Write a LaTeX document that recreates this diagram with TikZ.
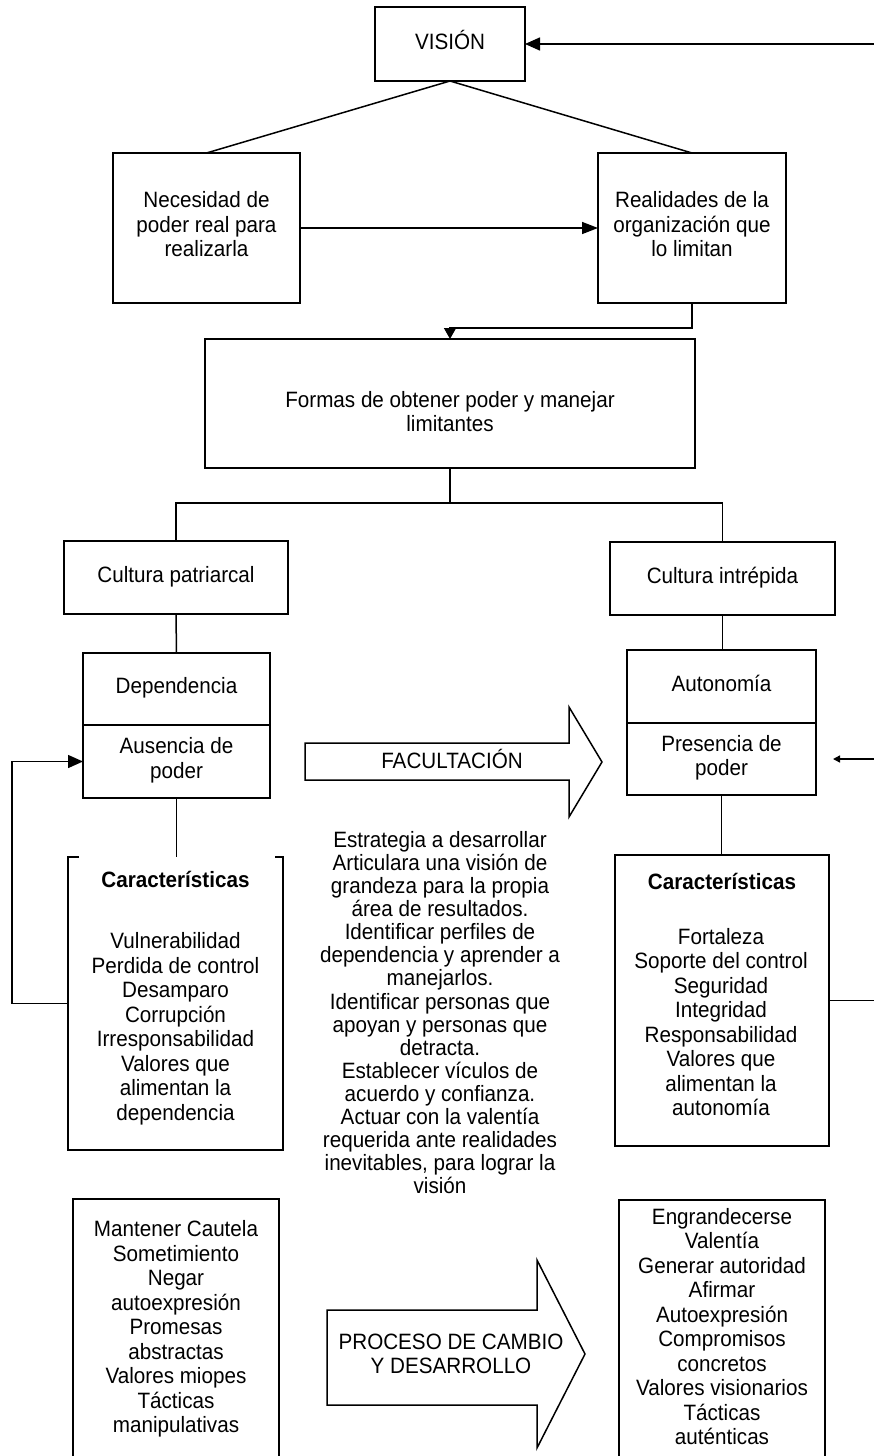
\documentclass[tikz,border=0pt]{standalone}
\usepackage{fontspec}
\setmainfont{Liberation Sans}[FakeStretch=0.93]
\usetikzlibrary{arrows.meta}
\begin{document}
\begin{tikzpicture}[x=1pt,y=-1pt,
  every node/.style={inner sep=0pt, outer sep=0pt, align=center,
    font=\fontsize{22.2}{24.5}\selectfont,
    execute at begin node=\strut, execute at end node=\strut},
  ln/.style={line width=1.5pt},
  box/.style={draw, line width=1.5pt, rectangle},
  blockarrow/.style={draw, line width=1.5pt, line join=miter},
  bigtip/.style={-{Triangle[length=15pt,width=13pt]}},
  smalltip/.style={-{Triangle[length=7pt,width=7pt]}},
  midtext/.style={font=\fontsize{22.2}{23.1}\selectfont}
]
\useasboundingbox (0,0) rectangle (873,1456);

% top level
\node[box, minimum width=150pt, minimum height=74pt] (vision) at (450,44) {VISIÓN};
\node[box, minimum width=187pt, minimum height=150pt] (nec) at (206.5,228)
  {Necesidad de\\poder real para\\realizarla};
\node[box, minimum width=188pt, minimum height=150pt] (real) at (692,228)
  {Realidades de la\\organización que\\lo limitan};
\node[box, minimum width=490pt, minimum height=129pt] (formas) at (450,403.5) {};
\node (formastxt) at (450,415) {Formas de obtener poder y manejar\\limitantes};

% the two cultures
\node[box, minimum width=224pt, minimum height=73pt] (pat) at (176,577.5) {Cultura patriarcal};
\node[box, minimum width=225pt, minimum height=73pt] (intr) at (722.5,578.5) {Cultura intrépida};

\node[box, minimum width=187pt, minimum height=72pt] (dep) at (176.5,689) {Dependencia};
\node[box, minimum width=187pt, minimum height=73pt] (aus) at (176.5,761.5) {Ausencia de\\poder};
\node[box, minimum width=189pt, minimum height=73pt] (aut) at (721.5,686.5) {Autonomía};
\node[box, minimum width=189pt, minimum height=72pt] (pres) at (721.5,759) {Presencia de\\poder};

% characteristics
\node[minimum width=215pt, minimum height=293pt] (lcar) at (175.5,1003.5) {};
\draw[ln] ([xshift=11pt]lcar.north west) -- (lcar.north west) -- (lcar.south west)
  -- (lcar.south east) -- (lcar.north east) -- ([xshift=-8pt]lcar.north east);
\node[font=\fontsize{22.2}{24.5}\selectfont\bfseries] (lcartitle) at (175.5,882.4) {Características};
\node (lcarlist) at (175.5,1030)
  {Vulnerabilidad\\Perdida de control\\Desamparo\\Corrupción\\Irresponsabilidad\\Valores que\\alimentan la\\dependencia};

\node[box, minimum width=214pt, minimum height=291pt] (rcar) at (722,1000.5) {};
\node[font=\fontsize{22.2}{24.5}\selectfont\bfseries] (rcartitle) at (722,884.4) {Características};
\node (rcarlist) at (721,1025.5)
  {Fortaleza\\Soporte del control\\Seguridad\\Integridad\\Responsabilidad\\Valores que\\alimentan la\\autonomía};

% strategy text
\node[midtext] (estr) at (440,1016)
  {Estrategia a desarrollar\\Articulara una visión de\\grandeza para la propia\\área de resultados.\\Identificar perfiles de\\dependencia y aprender a\\manejarlos.\\Identificar personas que\\apoyan y personas que\\detracta.\\Establecer vículos de\\acuerdo y confianza.\\Actuar con la valentía\\requerida ante realidades\\inevitables, para lograr la\\visión};

% bottom lists (boxes run past the lower edge)
\node[minimum width=206pt, minimum height=262.8pt] (mant) at (176,1330.4)
  {Mantener Cautela\\Sometimiento\\Negar\\autoexpresión\\Promesas\\abstractas\\Valores miopes\\Tácticas\\manipulativas};
\draw[ln] (mant.south west) -- (mant.north west) -- (mant.north east) -- (mant.south east);
\node[minimum width=206pt, minimum height=260pt] (engr) at (722,1330)
  {Engrandecerse\\Valentía\\Generar autoridad\\Afirmar\\Autoexpresión\\Compromisos\\concretos\\Valores visionarios\\Tácticas\\auténticas};
\draw[ln] (engr.south west) -- (engr.north west) -- (engr.north east) -- (engr.south east);

% block arrows
\draw[blockarrow] (305,743) -- (569,743) -- (569,707) -- (602,762) -- (569,817)
  -- (569,780) -- (305,780) -- cycle;
\node (facul) at (452,762.4) {FACULTACIÓN};
\draw[blockarrow] (327,1310) -- (537,1310) -- (537,1260) -- (585,1354) -- (537,1448)
  -- (537,1405) -- (327,1405) -- cycle;
\node (proc) at (451,1357.4) {PROCESO DE CAMBIO\\Y DESARROLLO};

% connectors
\draw[ln] (vision.south) -- (nec.north);
\draw[ln] (vision.south) -- (real.north);
\draw[ln, -{Triangle[length=16pt,width=12pt]}] (nec.east) -- (real.west);
\draw[ln, -{Triangle[length=11pt,width=12pt]}] (real.south) -- ++(0,25) -| (formas.north);
\coordinate (jn) at (450,503);
\draw[ln] (formas.south) -- (jn);
\draw[ln] (pat.north) |- (jn) -| (intr.north);
\draw[ln] (pat.south) -- (dep.north);
\draw[ln] (intr.south) -- (intr.south |- aut.north);
\draw[ln] (aus.south) -- (aus.south |- lcar.north);
\draw[ln] (pres.south) -- (pres.south |- rcar.north);
\draw[ln, bigtip] (lcar.west) -- ++(-56,0) |- (aus.west);
\coordinate (rr) at (885,0);
\draw[ln, bigtip] (rcar.east) -- (rcar.east -| rr) -- (rr |- vision.east) -- (vision.east);
\draw[ln, smalltip, shorten >=17pt] (rr |- pres.east) -- (pres.east);
\end{tikzpicture}
\end{document}
